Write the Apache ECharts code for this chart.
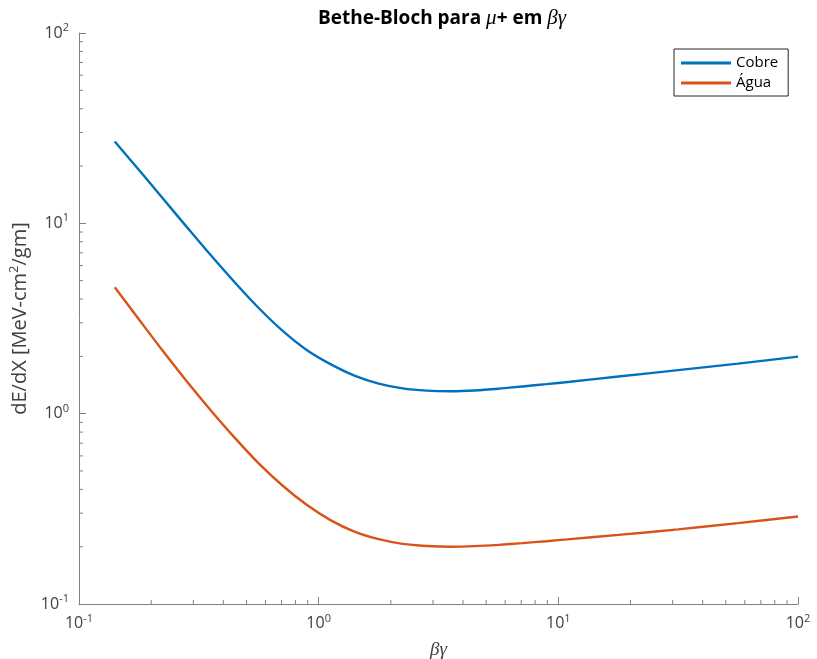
<!DOCTYPE html>
<html>
<head>
<meta charset="utf-8">
<script src="https://cdn.jsdelivr.net/npm/echarts@6/dist/echarts.min.js"></script>
<style>html,body{margin:0;padding:0;background:#fff}#c{width:817px;height:659px}</style>
</head>
<body>
<div id="c"></div>
<script>
const betaGamma = [0.141, 0.178, 0.224, 0.282, 0.355, 0.447, 0.562, 0.708, 0.891, 1.12, 1.41, 1.78, 2.24, 2.82, 3.55, 4.47, 5.62, 7.08, 8.91, 11.2, 17.8, 31.6, 56.2, 100];
const cobre = [26.9, 19.05, 13.49, 9.55, 6.79, 4.89, 3.59, 2.72, 2.16, 1.82, 1.585, 1.439, 1.358, 1.321, 1.312, 1.324, 1.352, 1.390, 1.429, 1.472, 1.567, 1.694, 1.832, 1.995];
const agua  = [4.62, 3.126, 2.133, 1.476, 1.040, 0.746, 0.548, 0.418, 0.332, 0.276, 0.240, 0.219, 0.207, 0.2018, 0.200, 0.2014, 0.2046, 0.2089, 0.2138, 0.2193, 0.2307, 0.2466, 0.2661, 0.2884];
const seriesNames = ['Cobre', 'Água'];
const minorTicks = [0.2,0.3,0.4,0.5,0.6,0.7,0.8,0.9,2,3,4,5,6,7,8,9,20,30,40,50,60,70,80,90];

const axisColor = '#808080';
const textColor = '#404040';
const font = 'Open Sans';
const AX_MIN = 0.1, AX_MAX = 100;

function fmt(v) {
  const e = Math.round(Math.log10(v));
  return '{b|10}{s|' + e + '}';
}
const richLab = {
  b: {fontSize: 16, fontFamily: font, color: textColor},
  s: {fontSize: 11, fontFamily: font, color: textColor, padding: [0, 0, 10, 0]}
};

function logAxis(extra) {
  return Object.assign({
    type: 'log', logBase: 10, min: AX_MIN, max: AX_MAX,
    axisLine: {show: true, lineStyle: {color: axisColor, width: 1}},
    axisTick: {show: true, inside: true, length: 7, lineStyle: {color: axisColor}},
    splitLine: {show: false},
    minorTick: {show: false}
  }, extra);
}

const colors = ['#0072BD', '#D95319'];

// minor tick marks drawn through the axis scales
const minorTickData = [];
minorTicks.forEach(v => { minorTickData.push([v, 0]); minorTickData.push([v, 1]); });

const chart = echarts.init(document.getElementById('c'), null, {renderer: 'canvas'});
chart.setOption({
  animation: false,
  backgroundColor: '#fff',
  title: {
    text: '{b|Bethe-Bloch para }{i|μ}{b|+ em }{i|βγ}',
    left: 437, top: 3, textAlign: 'center',
    textStyle: {
      rich: {
        b: {fontSize: 19, fontWeight: 'bold', fontFamily: font, color: '#000'},
        i: {fontSize: 21, fontWeight: 'normal', fontStyle: 'italic', fontFamily: 'Liberation Serif', color: '#000'}
      }
    }
  },
  legend: {
    data: seriesNames.map(n => ({name: n, icon: 'rect'})),
    orient: 'vertical',
    left: 674, top: 49,
    itemWidth: 50, itemHeight: 3, itemGap: 2,
    padding: [5, 10, 4, 7],
    borderColor: '#262626', borderWidth: 1, borderRadius: 0,
    backgroundColor: '#fff',
    textStyle: {fontSize: 15, lineHeight: 18, fontFamily: font, color: '#000'}
  },
  grid: {left: 79, right: 19, top: 33, bottom: 55, containLabel: false, outerBoundsMode: 'none'},
  xAxis: [
    logAxis({position: 'bottom', name: 'βγ', nameLocation: 'middle', nameGap: 36,
      nameTextStyle: {fontSize: 19, fontStyle: 'italic', fontFamily: 'Liberation Serif', color: textColor},
      axisLabel: {show: true, formatter: fmt, rich: richLab, margin: 9}})
  ],
  yAxis: [
    logAxis({position: 'left', name: '{t|dE/dX [MeV-cm}{s|2}{t|/gm]}', nameLocation: 'middle', nameGap: 43,
      nameRotate: 90,
      nameTextStyle: {rich: {
        t: {fontSize: 20, fontFamily: font, color: textColor},
        s: {fontSize: 13, fontFamily: font, color: textColor, padding: [0, 0, 11, 0]}
      }},
      axisLabel: {show: true, formatter: fmt, rich: richLab, margin: 10}})
  ],
  series: [
    {name: seriesNames[0], type: 'line', showSymbol: false, smooth: 0.3,
      lineStyle: {width: 2.4, color: colors[0]}, itemStyle: {color: colors[0]},
      data: betaGamma.map((x, i) => [x, cobre[i]])},
    {name: seriesNames[1], type: 'line', showSymbol: false, smooth: 0.3,
      lineStyle: {width: 2.4, color: colors[1]}, itemStyle: {color: colors[1]},
      data: betaGamma.map((x, i) => [x, agua[i]])},
    {name: 'minorTicks', type: 'custom', silent: true, clip: false, z: 1,
      encode: {x: -1, y: -1},
      data: minorTickData,
      renderItem: function (params, api) {
        const v = api.value(0), dir = api.value(1);
        let p, x2, y2;
        if (dir === 0) {
          p = api.coord([v, AX_MIN]);
          x2 = p[0]; y2 = p[1] - 4;
        } else {
          p = api.coord([AX_MIN, v]);
          x2 = p[0] + 4; y2 = p[1];
        }
        return {type: 'line', shape: {x1: p[0], y1: p[1], x2: x2, y2: y2},
          style: {stroke: axisColor, lineWidth: 1}};
      }}
  ]
});
</script>
</body>
</html>
